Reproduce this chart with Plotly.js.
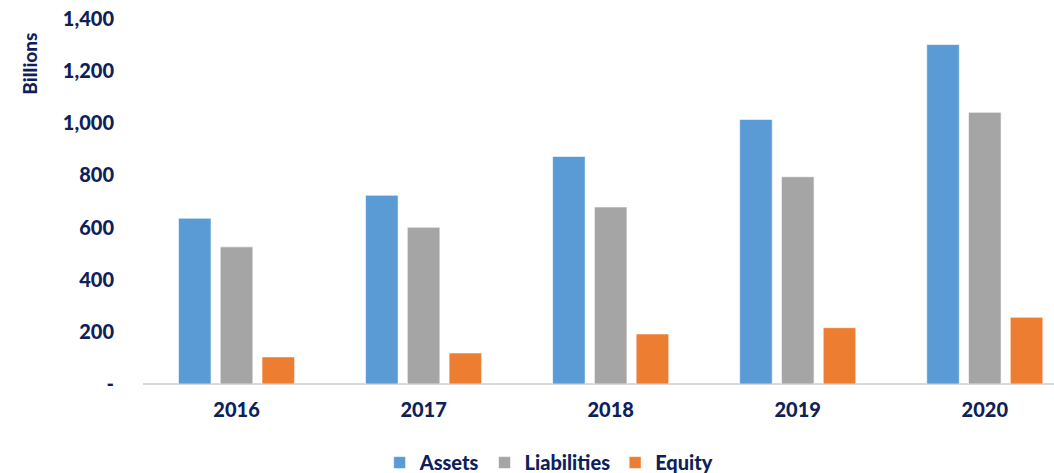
<!DOCTYPE html>
<html>
<head>
<meta charset="utf-8">
<script src="https://cdn.plot.ly/plotly-3.0.1.min.js"></script>
<style>html,body{margin:0;padding:0;background:#fff;overflow:hidden}#chart{width:1054px;height:473px}</style>
</head>
<body>
<div id="chart"></div>
<script>
const years = ["2016", "2017", "2018", "2019", "2020"];
const assets = [636, 724, 873, 1015, 1302];
const liabilities = [526, 601, 679, 795, 1042];
const equity = [104, 119, 192, 216, 256];
const yTickVals = [0, 200, 400, 600, 800, 1000, 1200, 1400];
const yTickText = ["-", "200", "400", "600", "800", "1,000", "1,200", "1,400"];

const navy = "#0f1f5c";
const fam = "Lato, 'Open Sans', sans-serif";
const font = {family: fam, size: 20, color: navy, weight: 900};

const mk = (name, y, color) => ({
  type: "bar", name: name, x: years, y: y,
  marker: {color: color, line: {color: "rgba(255,255,255,0.6)", width: 1}},
  hoverinfo: "skip"
});

const data = [
  mk("Assets", assets, "#5b9bd5"),
  mk("Liabilities", liabilities, "#a5a5a5"),
  mk("Equity", equity, "#ed7d31")
];

const layout = {
  width: 1054, height: 473,
  margin: {l: 143, r: 0, t: 19, b: 89},
  paper_bgcolor: "#fff", plot_bgcolor: "#fff",
  font: font,
  barmode: "group", bargap: 0.33, bargroupgap: 0.22,
  xaxis: {
    type: "category", range: [-0.5, 4.37],
    showgrid: false, zeroline: false,
    showline: false, ticks: "", ticklabelstandoff: 12,
    tickfont: font
  },
  yaxis: {
    range: [0, 1400], tickvals: yTickVals, ticktext: yTickText,
    showgrid: false, zeroline: true, zerolinecolor: "#d9d9d9", zerolinewidth: 2,
    showline: false, ticks: "", ticklabelstandoff: 28,
    tickfont: font
  },
  showlegend: true,
  legend: {
    orientation: "h", x: 0.521, xref: "container", xanchor: "center",
    y: 0.022, yref: "container", yanchor: "middle",
    font: {family: fam, size: 20, color: navy, weight: 900},
    itemwidth: 30, traceorder: "normal"
  },
  annotations: [{
    text: "Billions", textangle: -90, showarrow: false,
    xref: "paper", yref: "paper", x: -0.125, y: 0.878,
    xanchor: "center", yanchor: "middle",
    font: {family: fam, size: 19, color: navy, weight: 900}
  }]
};

Plotly.newPlot("chart", data, layout, {displayModeBar: false, staticPlot: true});
</script>
</body>
</html>
